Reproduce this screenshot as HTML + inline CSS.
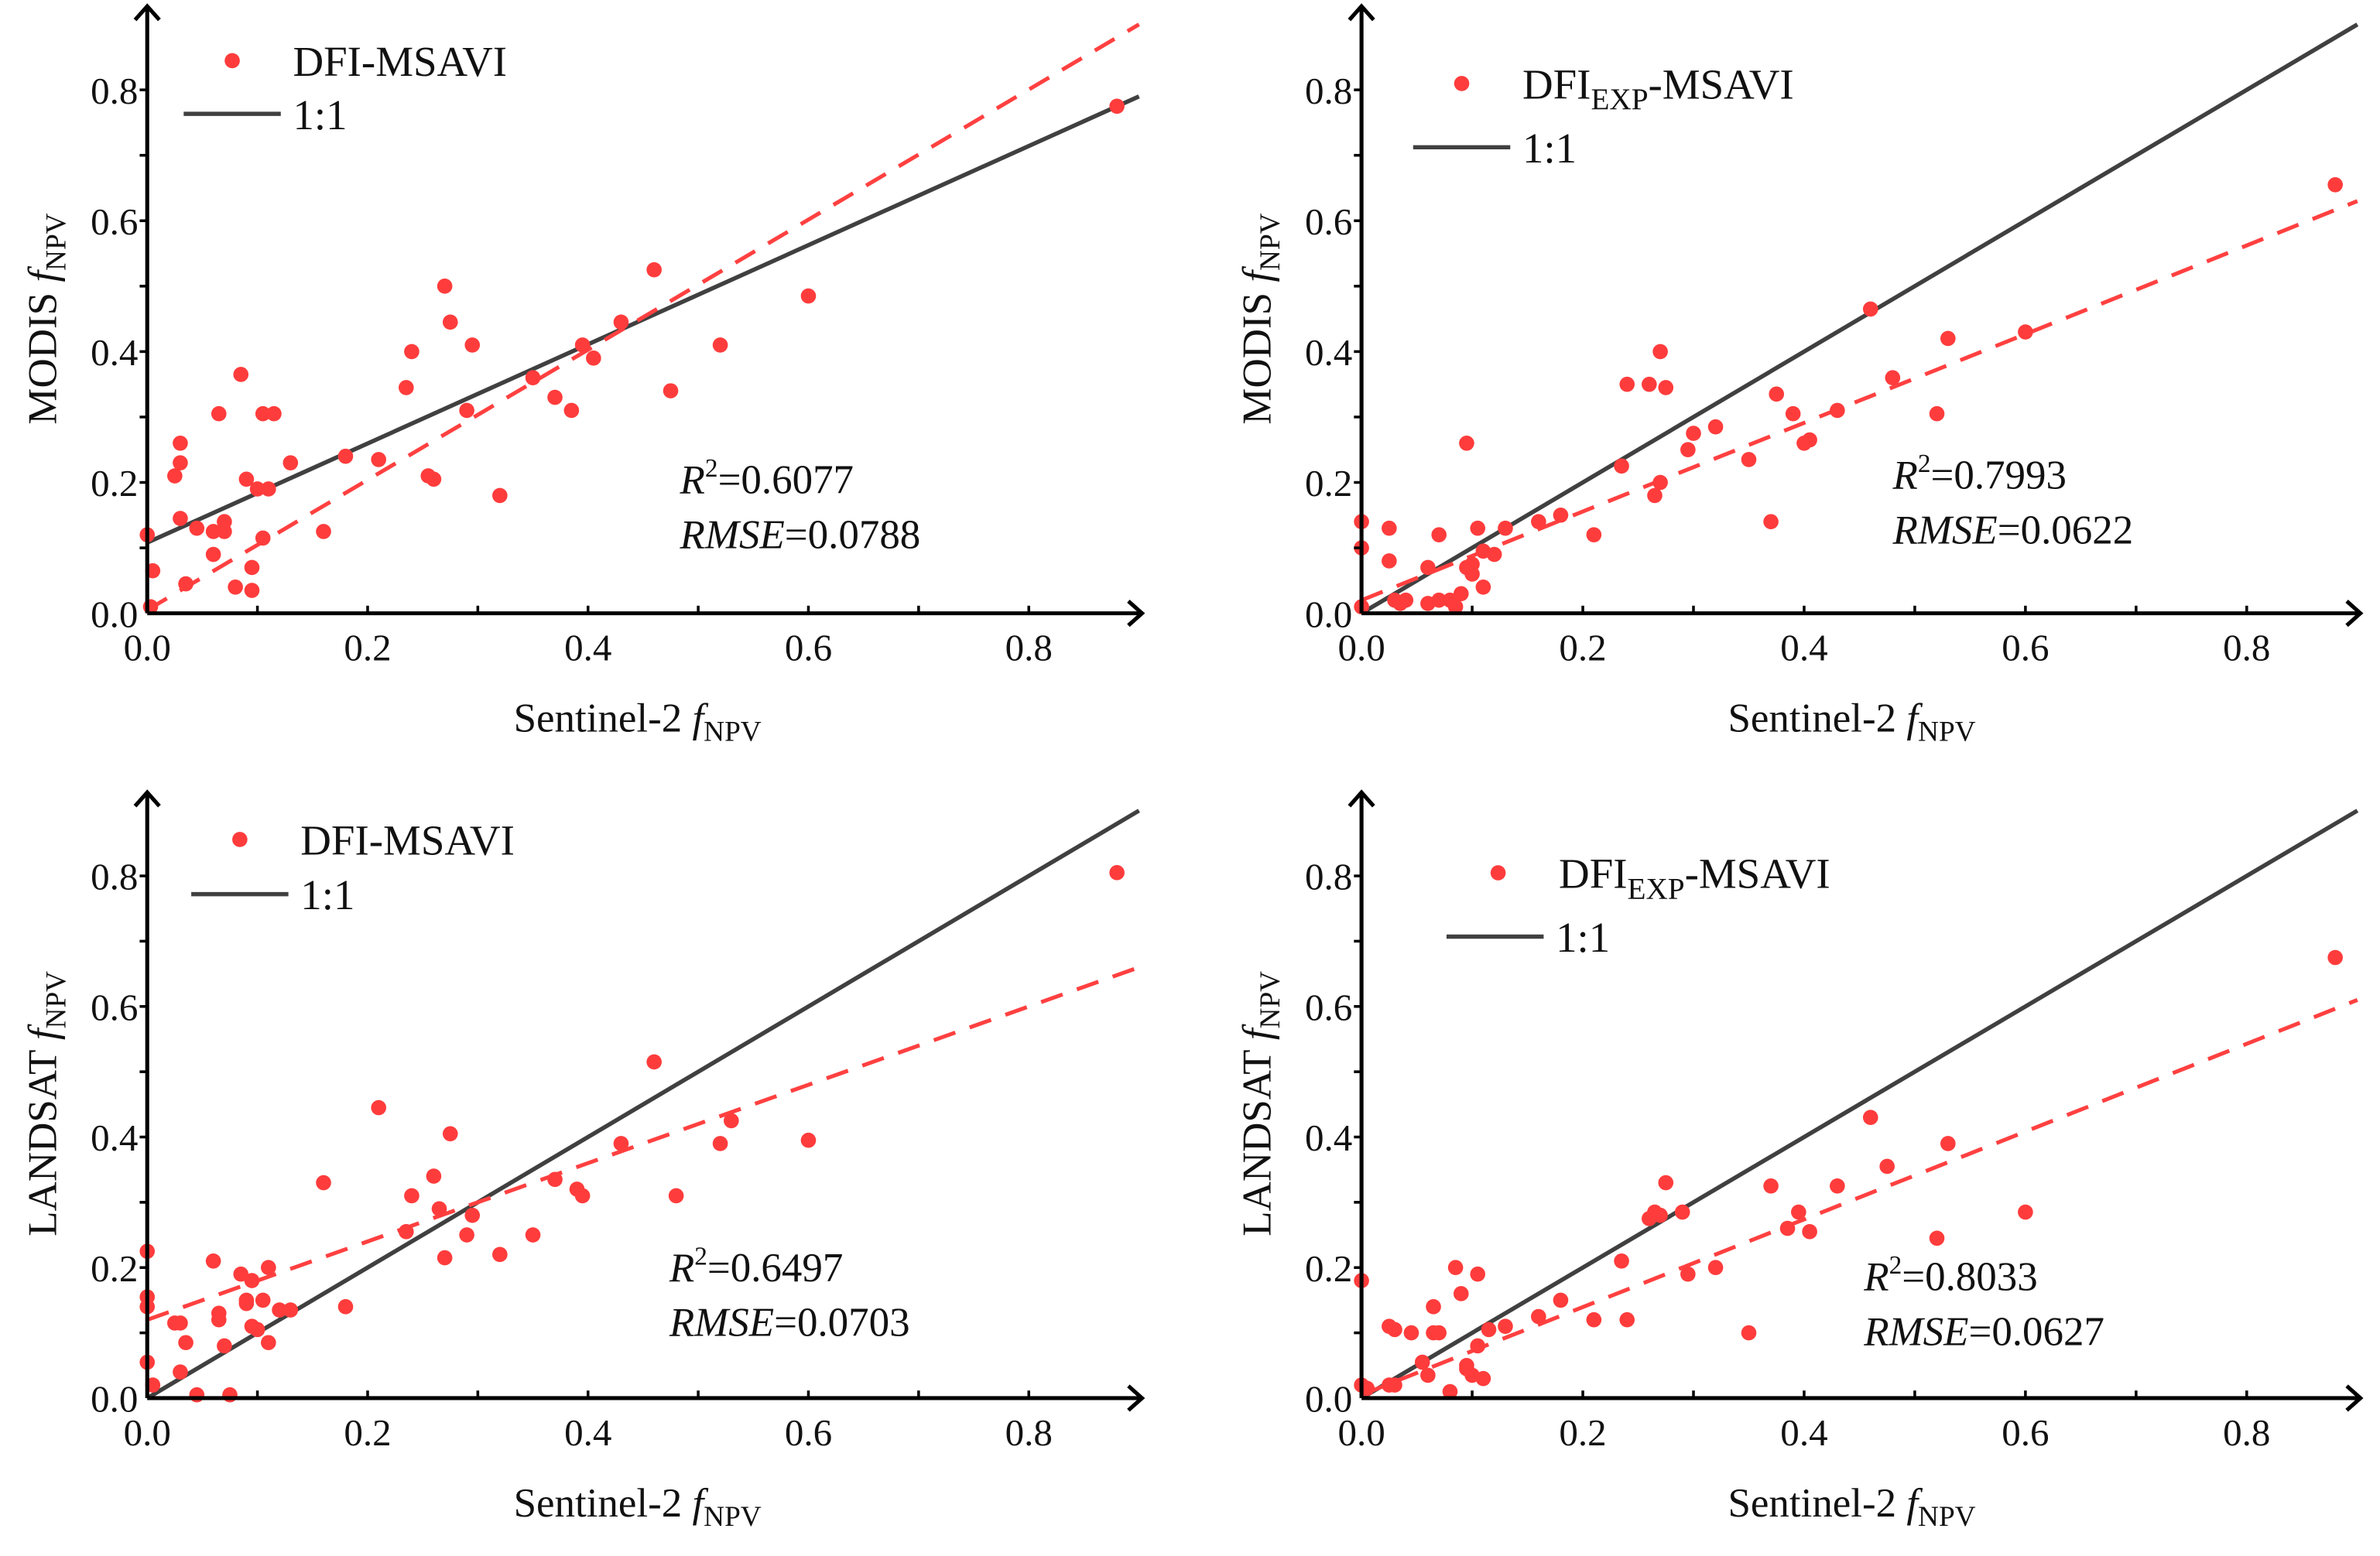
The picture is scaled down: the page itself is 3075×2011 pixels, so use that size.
<!DOCTYPE html>
<html><head><meta charset="utf-8"><style>
html,body{margin:0;padding:0;background:#fff;}
svg{display:block;}
svg text{font-family:"Liberation Serif","DejaVu Serif",serif !important;fill:#111;}
</style></head><body>
<svg id="chart" width="3075" height="2011" viewBox="0 0 1568 1025" preserveAspectRatio="none" xmlns="http://www.w3.org/2000/svg" font-family="Liberation Serif, DejaVu Serif, serif"></svg>
<script>
// ---- data ----
const xA = [0,0.005,0.003,0.025,0.03,0.03,0.03,0.035,0.045,0.06,0.06,0.065,0.07,0.07,0.08,0.085,0.09,0.095,0.095,0.1,0.105,0.105,0.11,0.115,0.13,0.16,0.18,0.21,0.235,0.24,0.255,0.26,0.27,0.275,0.29,0.295,0.32,0.35,0.37,0.385,0.395,0.405,0.43,0.46,0.475,0.52,0.6,0.88];
const yA = [0.12,0.065,0.01,0.21,0.23,0.26,0.145,0.045,0.13,0.125,0.09,0.305,0.14,0.125,0.04,0.365,0.205,0.07,0.035,0.19,0.305,0.115,0.19,0.305,0.23,0.125,0.24,0.235,0.345,0.4,0.21,0.205,0.5,0.445,0.31,0.41,0.18,0.36,0.33,0.31,0.41,0.39,0.445,0.525,0.34,0.41,0.485,0.775];
const xB = [0,0,0,0.025,0.025,0.03,0.035,0.04,0.06,0.06,0.07,0.07,0.08,0.085,0.09,0.095,0.095,0.1,0.1,0.105,0.11,0.11,0.12,0.13,0.16,0.18,0.21,0.235,0.24,0.26,0.265,0.27,0.27,0.275,0.295,0.3,0.32,0.35,0.37,0.375,0.39,0.4,0.405,0.43,0.46,0.48,0.52,0.53,0.6,0.88];
const yB = [0.14,0.1,0.01,0.13,0.08,0.02,0.015,0.02,0.07,0.015,0.12,0.02,0.02,0.01,0.03,0.26,0.07,0.06,0.075,0.13,0.04,0.095,0.09,0.13,0.14,0.15,0.12,0.225,0.35,0.35,0.18,0.4,0.2,0.345,0.25,0.275,0.285,0.235,0.14,0.335,0.305,0.26,0.265,0.31,0.465,0.36,0.305,0.42,0.43,0.655];
const xC = [0,0,0,0,0.005,0.025,0.03,0.03,0.035,0.045,0.06,0.065,0.065,0.07,0.075,0.085,0.09,0.09,0.095,0.095,0.1,0.105,0.11,0.11,0.12,0.13,0.16,0.18,0.21,0.235,0.24,0.26,0.265,0.27,0.275,0.29,0.295,0.32,0.35,0.37,0.39,0.395,0.43,0.46,0.48,0.52,0.53,0.6,0.88];
const yC = [0.225,0.155,0.14,0.055,0.02,0.115,0.115,0.04,0.085,0.005,0.21,0.13,0.12,0.08,0.005,0.19,0.145,0.15,0.18,0.11,0.105,0.15,0.2,0.085,0.135,0.135,0.33,0.14,0.445,0.255,0.31,0.34,0.29,0.215,0.405,0.25,0.28,0.22,0.25,0.335,0.32,0.31,0.39,0.515,0.31,0.39,0.425,0.395,0.805];
const xD = [0,0,0.005,0.025,0.025,0.03,0.03,0.045,0.055,0.06,0.065,0.065,0.07,0.08,0.085,0.09,0.095,0.095,0.1,0.105,0.105,0.11,0.115,0.13,0.16,0.18,0.21,0.235,0.24,0.26,0.265,0.27,0.275,0.29,0.295,0.32,0.35,0.37,0.385,0.395,0.405,0.43,0.46,0.475,0.52,0.53,0.6,0.88];
const yD = [0.18,0.02,0.015,0.11,0.02,0.105,0.02,0.1,0.055,0.035,0.14,0.1,0.1,0.01,0.2,0.16,0.05,0.045,0.035,0.19,0.08,0.03,0.105,0.11,0.125,0.15,0.12,0.21,0.12,0.275,0.285,0.28,0.33,0.285,0.19,0.2,0.1,0.325,0.26,0.285,0.255,0.325,0.43,0.355,0.245,0.39,0.285,0.675];
const refA = [0.108, 0.79], fitA = [0.005, 0.9];
const refB = [0, 0.9], fitB = [0.02, 0.63];
const refC = [0, 0.9], fitC = [0.12, 0.66];
const refD = [0, 0.9], fitD = [0.005, 0.61];
const tickVals = [0, 0.2, 0.4, 0.6, 0.8];
const tickLabels = ["0.0","0.2","0.4","0.6","0.8"];
const r2Labels = ["0.6077","0.7993","0.6497","0.8033"];
const rmseLabels = ["0.0788","0.0622","0.0703","0.0627"];

const NS = "http://www.w3.org/2000/svg";
const svg = document.getElementById('chart');
function mk(tag, attrs, parent){const e=document.createElementNS(NS,tag);for(const k in attrs)e.setAttribute(k,attrs[k]);(parent||svg).appendChild(e);return e;}
const FF = "Liberation Serif, DejaVu Serif, serif";

const panels = [
 {id:'a',x0:97,y0:404,sx:726,sy:431,xs:xA,ys:yA,ref:refA,fit:fitA,ylab:'MODIS ',exp:false,leg:[153,40,121,75],st:[448,325],i:0},
 {id:'b',x0:897,y0:404,sx:729,sy:431,xs:xB,ys:yB,ref:refB,fit:fitB,ylab:'MODIS ',exp:true,leg:[963,55,931,97],st:[1247,322],i:1},
 {id:'c',x0:97,y0:921,sx:726,sy:430,xs:xC,ys:yC,ref:refC,fit:fitC,ylab:'LANDSAT ',exp:false,leg:[158,553,126,589],st:[441,844],i:2},
 {id:'d',x0:897,y0:921,sx:729,sy:430,xs:xD,ys:yD,ref:refD,fit:fitD,ylab:'LANDSAT ',exp:true,leg:[987,575,953,617],st:[1228,850],i:3}
];

panels.forEach(p=>{
  const g = mk('g',{"font-family":FF});
  
  
  const X = v=>p.x0+v*p.sx, Y = v=>p.y0-v*p.sy;
  const rl = mk('line',{x1:X(0),y1:Y(p.ref[0]),x2:X(0.9),y2:Y(p.ref[1]),stroke:'#404040',"stroke-width":2.8},g);
  
  
  const fl = mk('line',{x1:X(0),y1:Y(p.fit[0]),x2:X(0.9),y2:Y(p.fit[1]),stroke:'#ff4040',"stroke-width":2.6,"stroke-dasharray":"15,10"},g);
  
  
  p.xs.forEach((xv,k)=>{
    const c = mk('circle',{cx:X(xv),cy:Y(p.ys[k]),r:5,fill:'#ff3c3c'},g);
    
    
  });
  const xa = mk('line',{x1:p.x0,y1:p.y0,x2:X(0.9)+2,y2:p.y0,stroke:'#000',"stroke-width":2.6},g);
  
  
  mk('polyline',{points:`${X(0.9)-7},${p.y0-8} ${X(0.9)+2},${p.y0} ${X(0.9)-7},${p.y0+8}`,fill:'none',stroke:'#000',"stroke-width":2.6},g);
  const yTop = p.y0-0.9*p.sy-12;
  const ya = mk('line',{x1:p.x0,y1:p.y0,x2:p.x0,y2:yTop,stroke:'#000',"stroke-width":2.6},g);
  
  
  mk('polyline',{points:`${p.x0-8},${yTop+9} ${p.x0},${yTop} ${p.x0+8},${yTop+9}`,fill:'none',stroke:'#000',"stroke-width":2.6},g);
  for(let t=0.1;t<0.85;t+=0.1){
    mk('line',{x1:X(t),y1:p.y0,x2:X(t),y2:p.y0-5,stroke:'#000',"stroke-width":1.8},g);
    mk('line',{x1:p.x0,y1:Y(t),x2:p.x0-5,y2:Y(t),stroke:'#000',"stroke-width":1.8},g);
  }
  tickVals.forEach((t,k)=>{
    const tx = mk('text',{x:X(t),y:p.y0+31,"font-size":25,"text-anchor":"middle","font-family":FF},g);
    tx.textContent = tickLabels[k];
    
    
    const ty = mk('text',{x:p.x0-6,y:Y(t)+9,"font-size":25,"text-anchor":"end","font-family":FF},g);
    ty.textContent = tickLabels[k];
    
    
  });
  const xt = mk('text',{x:p.x0+323,y:p.y0+78,"font-size":27,"text-anchor":"middle","font-family":FF},g);
  xt.innerHTML = 'Sentinel-2 <tspan font-style="italic">f</tspan><tspan font-size="19" dy="6">NPV</tspan>';
  
  
  const cy = p.y0-194;
  const yt = mk('text',{x:0,y:0,"font-size":27,"text-anchor":"middle","font-family":FF,transform:`translate(${p.x0-60},${cy}) rotate(-90)`},g);
  yt.innerHTML = p.ylab+'<tspan font-style="italic">f</tspan><tspan font-size="19" dy="6">NPV</tspan>';
  
  
  const L = p.leg;
  const ld = mk('circle',{cx:L[0],cy:L[1],r:5,fill:'#ff3c3c'},g);
  
  
  const lt = mk('text',{x:L[0]+40,y:L[1]+10,"font-size":28,"font-family":FF},g);
  lt.innerHTML = p.exp ? 'DFI<tspan font-size="20" dy="7">EXP</tspan><tspan dy="-7">-MSAVI</tspan>' : 'DFI-MSAVI';
  
  
  const ll = mk('line',{x1:L[2],y1:L[3],x2:L[2]+64,y2:L[3],stroke:'#404040',"stroke-width":2.8},g);
  
  
  const l2 = mk('text',{x:L[2]+72,y:L[3]+10,"font-size":28,"font-family":FF},g);
  l2.textContent = '1:1';
  
  
  const s1 = mk('text',{x:p.st[0],y:p.st[1],"font-size":27,"font-family":FF},g);
  s1.innerHTML = '<tspan font-style="italic">R</tspan><tspan font-size="17" dy="-11">2</tspan><tspan dy="11">='+r2Labels[p.i]+'</tspan>';
  
  
  const s2 = mk('text',{x:p.st[0],y:p.st[1]+36,"font-size":27,"font-family":FF},g);
  s2.innerHTML = '<tspan font-style="italic">RMSE</tspan>='+rmseLabels[p.i];
  
  
});
</script>
</body></html>
